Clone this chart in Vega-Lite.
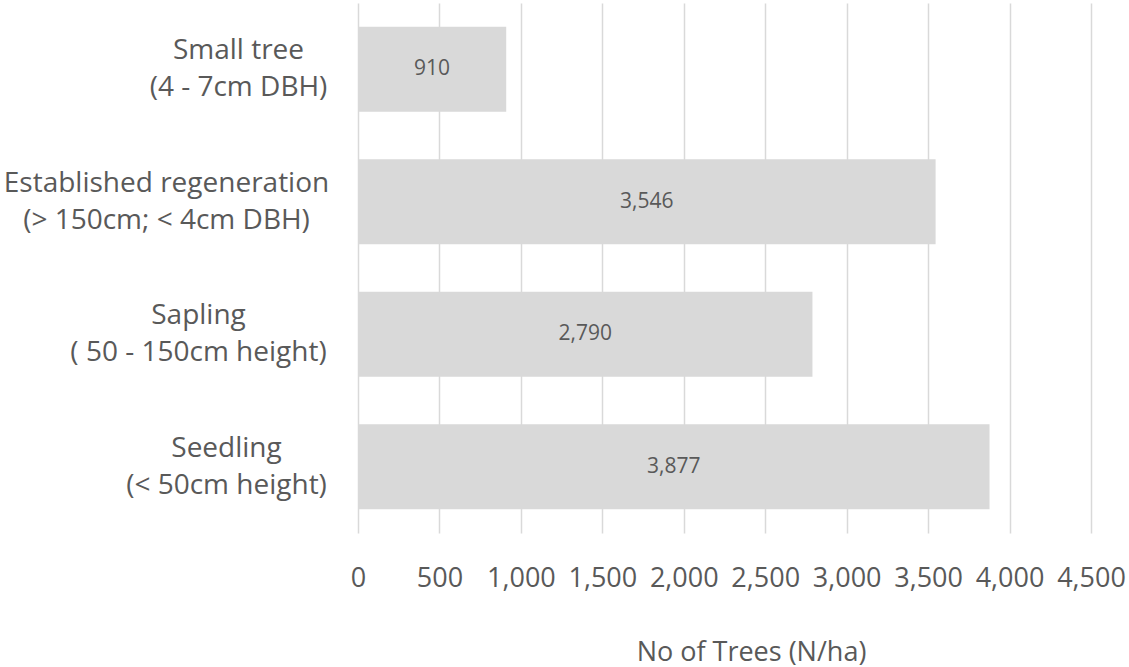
{
  "$schema": "https://vega.github.io/schema/vega-lite/v6.json",
  "width": 733,
  "height": 530,
  "autosize": "none",
  "padding": {"left": 358, "top": 3, "right": 38, "bottom": 134},
  "background": "white",
  "config": {"view": {"stroke": null}},
  "data": {
    "values": [
      {"stage": "Small tree|(4 - 7cm DBH)", "n": 910},
      {"stage": "Established regeneration|(> 150cm; < 4cm DBH)", "n": 3546},
      {"stage": "Sapling|( 50 - 150cm height)", "n": 2790},
      {"stage": "Seedling|(< 50cm height)", "n": 3877}
    ]
  },
  "encoding": {
    "y": {
      "field": "stage",
      "type": "nominal",
      "sort": null,
      "scale": {"paddingInner": 0.358, "paddingOuter": 0.179},
      "axis": {
        "title": null,
        "labelExpr": "split(datum.label, '|')",
        "labelAlign": "center",
        "labelBaseline": "middle",
        "labelOffset": -18,
        "labelPadding": {
          "condition": [
            {"test": "datum.value == 'Small tree|(4 - 7cm DBH)'", "value": 120},
            {"test": "datum.value == 'Established regeneration|(> 150cm; < 4cm DBH)'", "value": 192},
            {"test": "datum.value == 'Sapling|( 50 - 150cm height)'", "value": 160}
          ],
          "value": 132
        },
        "labelFont": "Open Sans",
        "labelFontSize": 28,
        "labelColor": "#595959",
        "labelLineHeight": 37,
        "labelLimit": 0,
        "domain": false,
        "ticks": false,
        "grid": false
      }
    }
  },
  "layer": [
    {
      "mark": {"type": "bar", "color": "#d9d9d9"},
      "encoding": {
        "x": {
          "field": "n",
          "type": "quantitative",
          "scale": {"domain": [0, 4500], "nice": false},
          "axis": {
            "title": "No of Trees (N/ha)",
            "values": [0, 500, 1000, 1500, 2000, 2500, 3000, 3500, 4000, 4500],
            "format": ",.0f",
            "grid": true,
            "gridColor": "#d9d9d9",
            "gridWidth": 1.5,
            "domain": false,
            "ticks": false,
            "labelFont": "Open Sans",
            "labelFontSize": 27,
            "labelColor": "#595959",
            "labelBaseline": "alphabetic",
            "labelPadding": 53,
            "labelFlush": false,
            "labelOverlap": false,
            "titleFont": "Open Sans",
            "titleFontSize": 27,
            "titleFontWeight": "normal",
            "titleColor": "#595959",
            "titleX": 393,
            "titleY": 127,
            "titleBaseline": "alphabetic"
          }
        }
      }
    },
    {
      "mark": {"type": "text", "font": "Open Sans", "fontSize": 21, "color": "#595959", "baseline": "middle", "align": "center"},
      "encoding": {
        "x": {
          "field": "n",
          "type": "quantitative",
          "scale": {"domain": [0, 9000], "nice": false},
          "axis": null
        },
        "text": {"field": "n", "type": "quantitative", "format": ",.0f"}
      }
    }
  ],
  "resolve": {"scale": {"x": "independent"}}
}
